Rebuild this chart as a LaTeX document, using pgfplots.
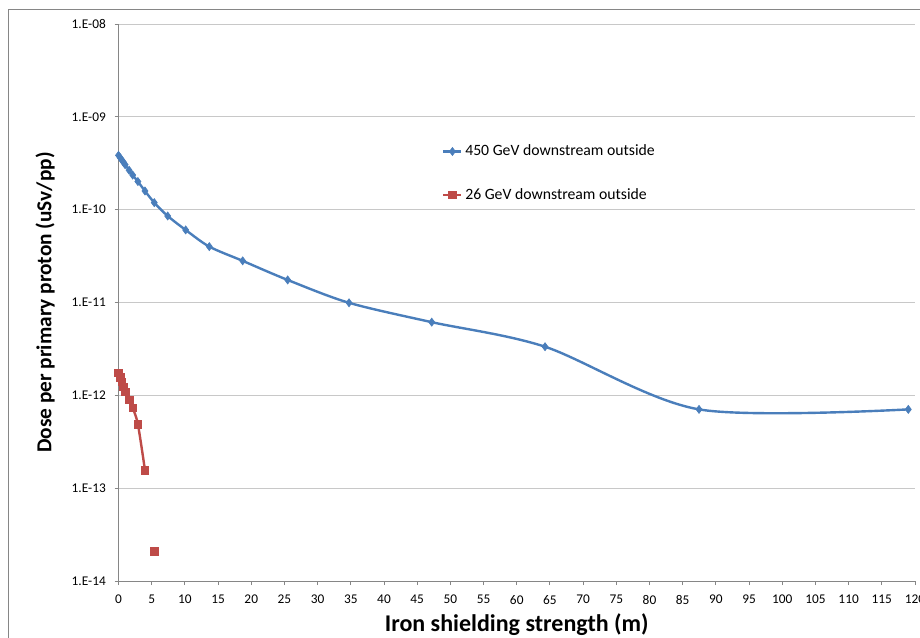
\documentclass[border=0pt]{standalone}
\usepackage{pgfplots}
\pgfplotsset{compat=1.18}
\usepackage{fontspec}
\setmainfont{Carlito}
\definecolor{sblue}{HTML}{4A7EBB}
\definecolor{sred}{HTML}{BE4B48}
\definecolor{axgray}{HTML}{868686}
\definecolor{gridgray}{HTML}{C8C8C8}
\begin{document}
\begin{tikzpicture}
\useasboundingbox (0pt,0pt) rectangle (690pt,478.5pt);
\draw[axgray, line width=0.75pt] (6.4pt,-5pt) -- (6.4pt,471pt) -- (700pt,471pt);
\begin{axis}[
  at={(88.875pt,42.75pt)}, anchor=south west,
  scale only axis, width=597.375pt, height=417.75pt,
  ymode=log, xmin=0, xmax=120, ymin=1e-14, ymax=1e-8,
  xtick={0,5,...,120},
  ytick={1e-14,1e-13,1e-12,1e-11,1e-10,1e-9,1e-8},
  yticklabels={1.E-14,1.E-13,1.E-12,1.E-11,1.E-10,1.E-09,1.E-08},
  axis x line*=bottom, axis y line*=left,
  axis line style={axgray, line width=0.75pt, -},
  tick style={axgray, line width=0.75pt},
  tick align=outside, major tick length=3pt,
  minor tick num=0, yminorticks=false, xminorticks=false,
  ymajorgrids, major grid style={gridgray, line width=0.75pt},
  /pgf/number format/assume math mode=true,
  tick label style={font=\fontsize{10}{12}\selectfont, black},
  xticklabel style={yshift=-4pt},
  yticklabel style={xshift=-3pt},
  xlabel={Iron shielding strength (m)},
  ylabel={Dose per primary proton (uSv/pp)},
  xlabel style={at={(axis description cs:0.5,-0.0898)}, anchor=base, font=\fontsize{18}{20}\bfseries\selectfont},
  ylabel style={at={(axis description cs:-0.0921,0.5)}, anchor=center, font=\fontsize{16}{18}\bfseries\selectfont},
  legend style={at={(axis description cs:0.4061,0.7880)}, anchor=north west, draw=none, fill=none,
    font=\fontsize{11.8}{14}\selectfont, row sep=19pt, inner sep=0pt},
  legend cell align=left,
  legend image code/.code={\draw[mark repeat=2,mark phase=2] plot coordinates {(0pt,0pt) (6.75pt,0pt) (13.5pt,0pt)};},
  unbounded coords=jump,
  clip=false,
]
\addplot[sblue, line width=1.8pt, smooth, tension=0.5, mark=diamond*, mark size=3pt, mark options={line width=0.5pt}] coordinates {
 (0,3.85e-10) (0.25,3.63e-10) (0.5,3.43e-10) (0.75,3.24e-10) (1.0,3.05e-10) (1.6,2.66e-10)
 (2.14,2.36e-10) (2.92,2.01e-10) (3.99,1.59e-10) (5.39,1.19e-10) (7.41,8.55e-11)
 (10.12,6.05e-11) (13.68,4.0e-11) (18.71,2.81e-11) (25.49,1.75e-11) (34.73,9.93e-12)
 (47.19,6.14e-12) (64.26,3.34e-12) (87.46,7.06e-13) (118.99,7.06e-13)
};
\addlegendentry{450 GeV downstream outside}
\addplot[sred, line width=1.8pt, smooth, tension=0.5, mark=square*, mark size=2.8pt, mark options={line width=0.5pt}] coordinates {
 (0,1.75e-12) (0.25,1.57e-12) (0.5,1.39e-12) (0.75,1.23e-12) (1.0,1.09e-12) (1.6,9.0e-13)
 (2.14,7.3e-13) (2.92,4.88e-13) (3.99,1.56e-13) (4.7,nan) (5.39,2.1e-14)
};
\addlegendentry{26 GeV downstream outside}
\end{axis}
\end{tikzpicture}
\end{document}
